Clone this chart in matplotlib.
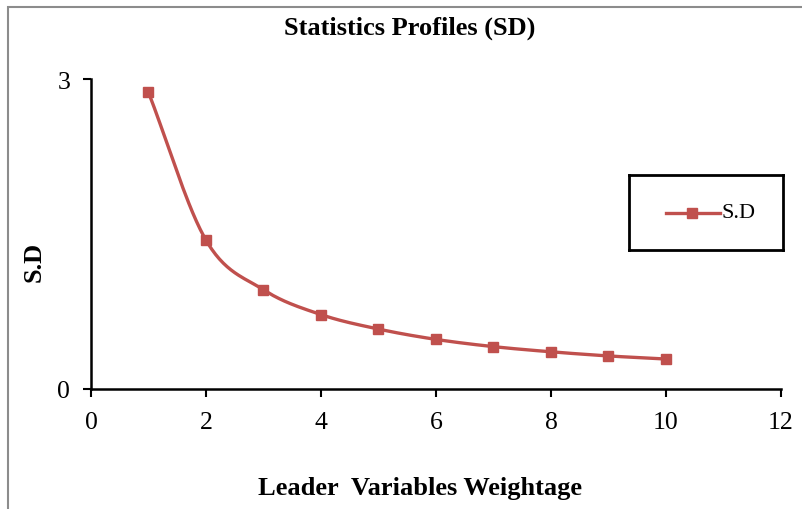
import numpy as np
import matplotlib
matplotlib.use("Agg")
import matplotlib.pyplot as plt
from matplotlib.patches import Rectangle

x_vals = [1, 2, 3, 4, 5, 6, 7, 8, 9, 10]
sd_vals = [2.87, 1.44, 0.96, 0.72, 0.58, 0.48, 0.41, 0.36, 0.32, 0.29]
x_ticks = [0, 2, 4, 6, 8, 10, 12]
y_ticks = [0, 3]

title = "Statistics Profiles (SD)"
xlabel = "Leader  Variables Weightage"
ylabel = "S.D"
series_name = "S.D"

color = "#C0504D"

plt.rcParams['font.family'] = ['Liberation Serif', 'DejaVu Serif']


def catmull_rom(xs, ys, n=30):
    xs = np.asarray(xs, float)
    ys = np.asarray(ys, float)
    P = np.column_stack([xs, ys])
    P = np.vstack([2 * P[0] - P[1], P, 2 * P[-1] - P[-2]])
    out = []
    for i in range(1, len(P) - 2):
        p0, p1, p2, p3 = P[i - 1], P[i], P[i + 1], P[i + 2]
        t = np.linspace(0, 1, n, endpoint=False)[:, None]
        c1 = p1 + (p2 - p0) / 6.0
        c2 = p2 - (p3 - p1) / 6.0
        seg = ((1 - t) ** 3) * p1 + 3 * ((1 - t) ** 2) * t * c1 + 3 * (1 - t) * t ** 2 * c2 + t ** 3 * p2
        out.append(seg)
    out.append(P[-2][None, :])
    out = np.vstack(out)
    return out[:, 0], out[:, 1]


fig = plt.figure(figsize=(8.03, 5.10), dpi=100)
fig.patch.set_facecolor("white")

# outer chart border
fig.patches.append(Rectangle((8 / 803, -0.05), 1.2, (510 - 8) / 510 + 0.05, transform=fig.transFigure,
                             fill=False, edgecolor="#8c8c8c", linewidth=1.5))

ax = fig.add_axes([91 / 803, (510 - 390) / 510, (781 - 91) / 803, (390 - 80) / 510])
sx, sy = catmull_rom(x_vals, sd_vals)
ax.plot(sx, sy, color=color, linewidth=2.4, solid_capstyle="round")
ax.plot(x_vals, sd_vals, linestyle="none", marker="s", markersize=7.5, color=color)

ax.set_xlim(0, 12)
ax.set_ylim(0, 3)
ax.set_xticks(x_ticks)
ax.set_yticks(y_ticks)
ax.tick_params(axis="both", direction="out", length=6, width=1.5, labelsize=18.5, colors="black")
ax.tick_params(axis="x", pad=10)
ax.tick_params(axis="y", pad=9)
for s in ["top", "right"]:
    ax.spines[s].set_visible(False)
for s in ["left", "bottom"]:
    ax.spines[s].set_linewidth(1.8)
    ax.spines[s].set_color("black")

fig.text(410 / 803, 1 - 28 / 510, title, ha="center", va="center", fontsize=19, fontweight="bold")
fig.text(420 / 803, 1 - 489 / 510, xlabel, ha="center", va="center", fontsize=19, fontweight="bold")
fig.text(34 / 803, 1 - 262 / 510, ylabel, ha="center", va="center", fontsize=19, fontweight="bold", rotation=90)

# legend
lax = fig.add_axes([629 / 803, 1 - 251 / 510, (783 - 629) / 803, (251 - 176) / 510])
lax.set_xlim(0, 1)
lax.set_ylim(0, 1)
lax.set_xticks([])
lax.set_yticks([])
for s in lax.spines.values():
    s.set_linewidth(2)
    s.set_color("black")
lax.plot([0.24, 0.59], [0.5, 0.5], color=color, linewidth=2.4)
lax.plot([0.41], [0.5], marker="s", markersize=7.5, color=color, linestyle="none")
lax.text(0.60, 0.5, series_name, ha="left", va="center", fontsize=16)

fig.savefig("out.png", dpi=100, facecolor="white")
